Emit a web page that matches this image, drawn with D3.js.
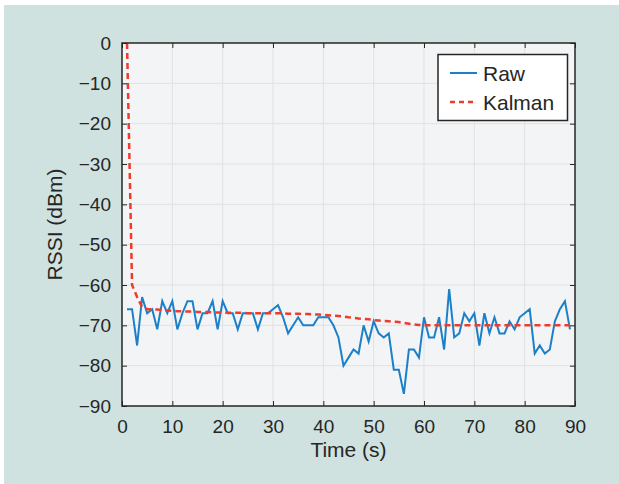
<!DOCTYPE html>
<html>
<head>
<meta charset="utf-8">
<script src="https://cdn.jsdelivr.net/npm/d3@7"></script>
<style>
  html, body { margin: 0; padding: 0; background: #ffffff; }
  svg { display: block; }
  text { font-family: "Liberation Sans", Arial, Helvetica, sans-serif; fill: #262626; }
</style>
</head>
<body>
<svg id="chart" width="619" height="484"></svg>
<script>
// ---- data ----
const timeRaw = [1,2,3,4,5,6,7,8,9,10,11,12,13,14,15,16,17,18,19,20,21,22,23,24,25,26,27,28,29,30,
  31,32,33,34,35,36,37,38,39,40,41,42,43,44,45,46,47,48,49,50,51,52,53,54,55,56,57,58,59,60,
  61,62,63,64,65,66,67,68,69,70,71,72,73,74,75,76,77,78,79,80,81,82,83,84,85,86,87,88,89];
const rawRSSI = [-66,-66,-75,-63,-67,-66,-71,-64,-67,-64,
  -71,-67,-64,-64,-71,-67,-67,-64,-71,-64,
  -67,-67,-71,-67,-67,-67,-71,-67,-67,-66,
  -65,-68,-72,-70,-68,-70,-70,-70,-68,-68,
  -68,-70,-73,-80,-78,-76,-77,-70,-74,-69,
  -72,-73,-72,-81,-81,-87,-76,-76,-78,-68,
  -73,-73,-68,-76,-61,-73,-72,-67,-69,-67,
  -75,-67,-72,-68,-72,-72,-69,-71,-68,-67,
  -66,-77,-75,-77,-76,-69,-66,-64,-71];
const kalmanRSSI = [0,-60,-63,-65.5,-66,-66,-66.1,-66.2,-66.3,-66.4,
  -66.5,-66.5,-66.6,-66.6,-66.7,-66.7,-66.7,-66.8,-66.8,-66.8,
  -66.9,-66.9,-66.9,-66.9,-67,-67,-67,-67,-67,-67,
  -67,-67,-67.1,-67.1,-67.1,-67.2,-67.2,-67.3,-67.3,-67.4,
  -67.5,-67.6,-67.7,-67.8,-68,-68.1,-68.3,-68.4,-68.5,-68.7,
  -68.8,-68.9,-69,-69.1,-69.2,-69.4,-69.6,-69.8,-69.9,-70,
  -70,-70,-70,-70,-70,-70,-70,-70,-70,-70,
  -70,-70,-70,-70,-70,-70,-70,-70,-70,-70,
  -70,-70,-70,-70,-70,-70,-70,-70,-70];
const xTicks = [0,10,20,30,40,50,60,70,80,90];
const yTicks = [0,-10,-20,-30,-40,-50,-60,-70,-80,-90];
const seriesNames = ["Raw", "Kalman"];
const xLabel = "Time (s)";
const yLabel = "RSSI (dBm)";

// ---- layout ----
const W = 619, H = 484;
const plot = {left: 122, top: 43, right: 575, bottom: 406};
const colors = {bg: "#cfe2df", plot: "#f3f4f6", grid: "#dfe1e3", axis: "#262626",
  raw: "#1b80c8", kalman: "#ef3b2c"};

const svg = d3.select("#chart");
svg.append("rect").attr("x", 4).attr("y", 5).attr("width", W - 4).attr("height", H - 5).attr("fill", colors.bg);

const x = d3.scaleLinear().domain([0, 90]).range([plot.left, plot.right]);
const y = d3.scaleLinear().domain([-90, 0]).range([plot.bottom, plot.top]);

svg.append("rect")
  .attr("x", plot.left).attr("y", plot.top)
  .attr("width", plot.right - plot.left).attr("height", plot.bottom - plot.top)
  .attr("fill", colors.plot);

// grid
const grid = svg.append("g");
grid.selectAll("line.vx").data(xTicks.slice(1, -1)).join("line")
  .attr("x1", d => x(d)).attr("x2", d => x(d))
  .attr("y1", plot.top).attr("y2", plot.bottom)
  .attr("stroke", colors.grid).attr("stroke-width", 1);
grid.selectAll("line.hy").data(yTicks.slice(1, -1)).join("line")
  .attr("y1", d => y(d)).attr("y2", d => y(d))
  .attr("x1", plot.left).attr("x2", plot.right)
  .attr("stroke", colors.grid).attr("stroke-width", 1);

// lines
const clipId = "plotclip";
svg.append("clipPath").attr("id", clipId).append("rect")
  .attr("x", plot.left).attr("y", plot.top - 1)
  .attr("width", plot.right - plot.left).attr("height", plot.bottom - plot.top + 1);

const line = d3.line().x(d => x(d[0])).y(d => y(d[1]));
const g = svg.append("g").attr("clip-path", `url(#${clipId})`);
g.append("path")
  .attr("d", line(timeRaw.map((t, i) => [t, rawRSSI[i]])))
  .attr("fill", "none").attr("stroke", colors.raw).attr("stroke-width", 2)
  .attr("stroke-linejoin", "miter");
g.append("path")
  .attr("d", line(timeRaw.map((t, i) => [t, kalmanRSSI[i]])))
  .attr("fill", "none").attr("stroke", colors.kalman).attr("stroke-width", 2.5)
  .attr("stroke-dasharray", "6,4");

// axes (ticks inside, on all four sides)
const tl = 5;
const axB = svg.append("g").attr("transform", `translate(0,${plot.bottom})`)
  .call(d3.axisBottom(x).tickValues(xTicks).tickSize(-tl).tickPadding(14).tickFormat(d3.format("d")));
const axT = svg.append("g").attr("transform", `translate(0,${plot.top})`)
  .call(d3.axisTop(x).tickValues(xTicks).tickSize(-tl).tickFormat(""));
const axL = svg.append("g").attr("transform", `translate(${plot.left},0)`)
  .call(d3.axisLeft(y).tickValues(yTicks).tickSize(-tl).tickPadding(11).tickFormat(d => d === 0 ? "0" : "\u2212" + Math.abs(d)));
const axR = svg.append("g").attr("transform", `translate(${plot.right},0)`)
  .call(d3.axisRight(y).tickValues(yTicks).tickSize(-tl).tickFormat(""));
[axB, axT, axL, axR].forEach(a => {
  a.select(".domain").remove();
  a.selectAll(".tick line").attr("stroke", colors.axis).attr("stroke-width", 1);
  a.selectAll(".tick text").attr("font-size", 19).attr("fill", "#262626")
    .style("font-family", '"Liberation Sans", Arial, sans-serif');
});
svg.append("rect")
  .attr("x", plot.left).attr("y", plot.top)
  .attr("width", plot.right - plot.left).attr("height", plot.bottom - plot.top)
  .attr("fill", "none").attr("stroke", colors.axis).attr("stroke-width", 1.5);

// axis labels
svg.append("text").attr("x", (plot.left + plot.right) / 2).attr("y", 457)
  .attr("text-anchor", "middle").attr("font-size", 21).text(xLabel);
svg.append("text")
  .attr("transform", `translate(62,${(plot.top + plot.bottom) / 2}) rotate(-90)`)
  .attr("text-anchor", "middle").attr("font-size", 21).text(yLabel);

// legend
const lg = svg.append("g");
lg.append("rect").attr("x", 438).attr("y", 54.5).attr("width", 129.5).attr("height", 66)
  .attr("fill", "#ffffff").attr("stroke", colors.axis).attr("stroke-width", 1.5);
const legendItems = [
  {name: seriesNames[0], color: colors.raw, dash: null, w: 2, y: 73},
  {name: seriesNames[1], color: colors.kalman, dash: "5,4", w: 2.5, y: 102}
];
legendItems.forEach(it => {
  const l = lg.append("line").attr("x1", 450).attr("x2", 477).attr("y1", it.y).attr("y2", it.y)
    .attr("stroke", it.color).attr("stroke-width", it.w);
  if (it.dash) l.attr("stroke-dasharray", it.dash);
  lg.append("text").attr("x", 483).attr("y", it.y + 7.5).attr("font-size", 21).text(it.name);
});
</script>
</body>
</html>
